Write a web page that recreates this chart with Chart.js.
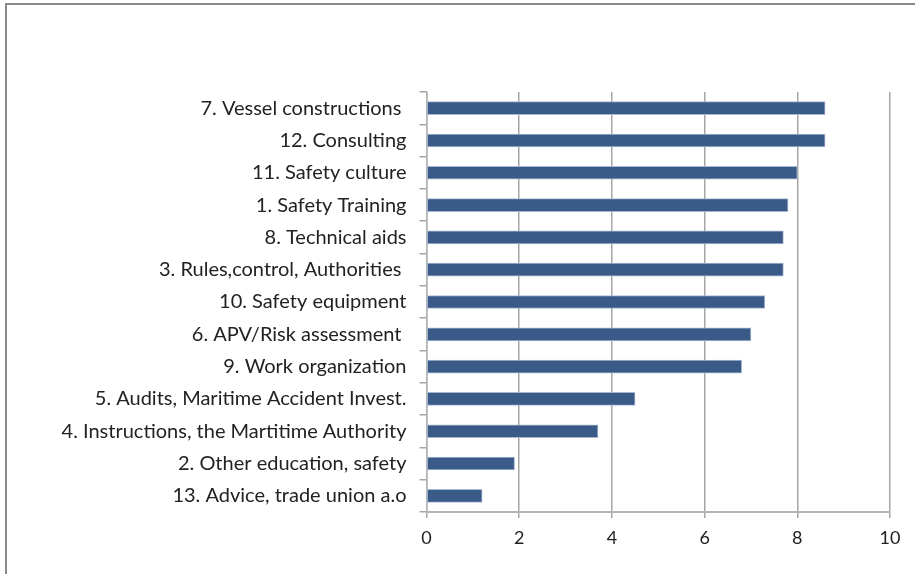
<!DOCTYPE html>
<html>
<head>
<meta charset="utf-8">
<script src="https://cdn.jsdelivr.net/npm/chart.js@4/dist/chart.umd.min.js"></script>
<style>
    html, body { margin: 0; padding: 0; background: #fff; }
    #wrap { position: relative; width: 915px; height: 574px; overflow: hidden; }
    #frame { position: absolute; left: 5px; top: 3px; width: 1000px; height: 700px;
             border-left: 2px solid #8a8a8a; border-top: 2px solid #8a8a8a; }
    canvas { position: absolute; left: 0; top: 0; }
</style>
</head>
<body>
<div id="wrap">
    <div id="frame"></div>
    <canvas id="grafico" width="915" height="574"></canvas>
</div>
<script>
const categorie = [
    '7. Vessel constructions ',
    '12. Consulting',
    '11. Safety culture',
    '1. Safety Training',
    '8. Technical aids',
    '3. Rules,control, Authorities ',
    '10. Safety equipment',
    '6. APV/Risk assessment ',
    '9. Work organization',
    '5. Audits, Maritime Accident Invest.',
    '4. Instructions, the Martitime Authority',
    '2. Other education, safety',
    '13. Advice, trade union a.o'
]
const valori = [8.6, 8.6, 8.0, 7.8, 7.7, 7.7, 7.3, 7.0, 6.8, 4.5, 3.7, 1.9, 1.2]
const tickX = [0, 2, 4, 6, 8, 10]

const fontY = { family: 'Lato, "Open Sans", sans-serif', size: 20 }
const fontX = { family: 'Lato, "Open Sans", sans-serif', size: 18 }

new Chart(
    document.getElementById('grafico'),
    {
        type: 'bar',
        data: {
            labels: categorie,
            datasets: [
                {
                    data: valori,
                    backgroundColor: '#3a5a88',
                    borderColor: '#a9b8d2',
                    borderWidth: 1,
                    borderSkipped: false,
                    barThickness: 13
                }
            ]
        },
        options: {
            indexAxis: 'y',
            responsive: false,
            animation: false,
            layout: {
                padding: { top: 92, right: 25, left: 0, bottom: 0 }
            },
            plugins: {
                legend: { display: false },
                tooltip: { enabled: false }
            },
            scales: {
                x: {
                    min: 0,
                    max: 10,
                    afterBuildTicks: function (scale) {
                        scale.ticks = tickX.map(v => ({ value: v }))
                    },
                    afterFit: function (scale) {
                        scale.height = 62
                    },
                    grid: {
                        color: '#a6a6a6',
                        lineWidth: 1.5,
                        tickLength: 6,
                        tickColor: '#a6a6a6'
                    },
                    border: { color: '#b4b4b4', width: 2 },
                    ticks: {
                        color: '#222',
                        font: fontX,
                        padding: 9
                    }
                },
                y: {
                    afterFit: function (scale) {
                        scale.width = 426.5
                    },
                    grid: {
                        offset: true,
                        drawOnChartArea: false,
                        tickLength: 7,
                        tickColor: '#a6a6a6',
                        lineWidth: 1.5
                    },
                    border: { color: '#b4b4b4', width: 1.5 },
                    ticks: {
                        color: '#222',
                        font: fontY,
                        padding: 13,
                        autoSkip: false
                    }
                }
            }
        }
    }
)
</script>
</body>
</html>
